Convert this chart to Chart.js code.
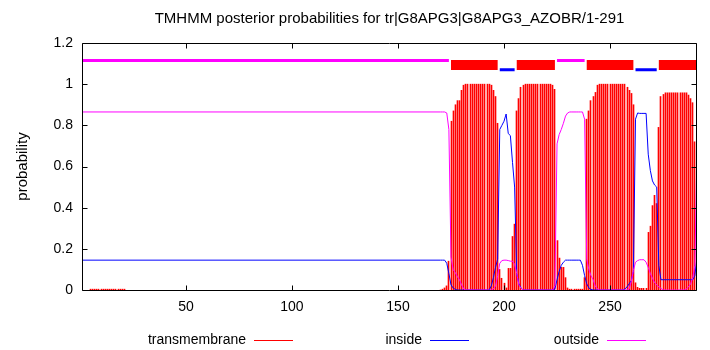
<!DOCTYPE html>
<html>
<head>
<meta charset="utf-8">
<title>TMHMM posterior probabilities</title>
<script src="https://cdn.jsdelivr.net/npm/chart.js@4.4.1/dist/chart.umd.min.js"></script>
<style>
  html, body { margin: 0; padding: 0; background: #fff; }
  canvas { display: block; }
</style>
</head>
<body>
<canvas id="tmhmm" width="710" height="350"></canvas>
<script>
const chartTitle = 'TMHMM posterior probabilities for tr|G8APG3|G8APG3_AZOBR/1-291';
const seqLength = 291;
const xTicks = [50, 100, 150, 200, 250];
const yTicks = [0, 0.2, 0.4, 0.6, 0.8, 1, 1.2];
const legendLabels = ['transmembrane', 'inside', 'outside'];

// residues 1..169 are flat
const flatInside = 0.145;
const flatOutside = 0.865;

// faint transmembrane impulses near the N terminus
const earlyTmResidues = [5, 6, 7, 8, 9, 10, 11, 12, 13, 14, 15, 16, 17, 18, 19, 20, 21];
const earlyTmValues = [0.004, 0.004, 0.004, 0.004, 0.004, 0.004, 0.004, 0.004, 0.004,
  0.004, 0.004, 0.004, 0.004, 0.004, 0.004, 0.004, 0.004];

// one value per residue, from residue 170 to 291
const profileStart = 170;
const tmProb = [
  0, 0.004, 0.01, 0.02, 0.14, 0.82, 0.87, 0.90, 0.92, 0.92, 0.97, 0.995,
  1, 1, 1, 1, 1, 1, 1, 1, 1, 1, 1, 1,
  0.995, 0.97, 0.94, 0.81, 0.10, 0.057, 0.033, 0.01, 0.105, 0.105, 0.26, 0.32, 0.87, 0.93, 0.985, 0.995,
  1, 1, 1, 1, 1, 1, 1, 1, 1, 1, 1, 1, 1,
  0.995, 0.975, 0.24, 0.155, 0.11, 0.11, 0.06, 0.01,
  0.004, 0.004, 0.004, 0.004, 0.004, 0.004, 0.004,
  0.06, 0.83, 0.87, 0.92, 0.94, 0.96, 0.995,
  1, 1, 1, 1, 1, 1, 1, 1, 1, 1, 1, 1, 1,
  0.985, 0.97, 0.955, 0.9, 0.035, 0.013,
  0.008, 0.008, 0.008, 0.008,
  0.28, 0.31, 0.41, 0.46, 0.42, 0.79, 0.94, 0.95,
  0.958, 0.958, 0.958, 0.958, 0.958, 0.958, 0.958, 0.958, 0.958, 0.958, 0.958,
  0.947, 0.93, 0.91, 0.72, 0.16
];
const insideProb = [
  0.145, 0.145, 0.145, 0.13, 0.08, 0.025, 0.01, 0.003,
  0, 0, 0, 0, 0, 0, 0, 0, 0, 0, 0, 0, 0, 0, 0, 0,
  0.02, 0.06, 0.11, 0.15, 0.78, 0.80, 0.82, 0.855, 0.76, 0.75, 0.62, 0.50, 0.08, 0.03, 0.01,
  0, 0, 0, 0, 0, 0, 0, 0, 0, 0, 0, 0, 0, 0, 0,
  0.005, 0.05, 0.09, 0.12, 0.135,
  0.145, 0.145, 0.145, 0.145, 0.145, 0.145, 0.145, 0.145,
  0.12, 0.07, 0.03, 0.01, 0.003,
  0, 0, 0, 0, 0, 0, 0, 0, 0, 0, 0, 0, 0, 0, 0,
  0.005, 0.015, 0.03, 0.045, 0.09, 0.83, 0.86,
  0.858, 0.858, 0.858, 0.858,
  0.66, 0.58, 0.53, 0.51, 0.50, 0.12, 0.05,
  0.05, 0.05, 0.05, 0.05, 0.05, 0.05, 0.05, 0.05, 0.05, 0.05, 0.05, 0.05, 0.05, 0.05, 0.05,
  0.07, 0.16
];
const outsideProb = [
  0.865, 0.865, 0.865, 0.86, 0.78, 0.16, 0.10, 0.085, 0.065, 0.05, 0.025, 0.005,
  0, 0, 0, 0, 0, 0, 0, 0, 0, 0, 0, 0, 0,
  0.005, 0.02, 0.07, 0.13, 0.143, 0.145, 0.145, 0.143, 0.14, 0.14, 0.125, 0.08, 0.025, 0.008,
  0, 0, 0, 0, 0, 0, 0, 0, 0, 0, 0, 0, 0, 0, 0,
  0.02, 0.71, 0.755, 0.78, 0.81, 0.845, 0.86,
  0.865, 0.865, 0.865, 0.865, 0.865, 0.865, 0.865,
  0.83, 0.15, 0.10, 0.07, 0.05, 0.02, 0.005,
  0, 0, 0, 0, 0, 0, 0, 0, 0, 0, 0, 0, 0, 0,
  0.005, 0.04, 0.095, 0.135, 0.143, 0.147, 0.147, 0.147, 0.135, 0.11, 0.08, 0.057, 0.035, 0.025, 0.015, 0.008,
  0, 0, 0, 0, 0, 0, 0, 0, 0, 0, 0,
  0.005, 0.015, 0.03, 0.06, 0.12, 0.69
];

// predicted topology, [first residue, last residue]
const outsideSegments = [[1, 174], [225, 238]];
const helixSegments = [[175, 197], [206, 224], [239, 261], [273, 291]];
const insideSegments = [[198, 205], [262, 272]];

// drawing setup
const RED = '#ff0000', BLUE = '#0000ff', MAGENTA = '#ff00ff';
const FONT = 'Liberation Sans, Arial, Helvetica, sans-serif';
const outsideLevel = 1.115, helixLevel = 1.093, insideLevel = 1.07;

const profile = (flat, vals) =>
  [{ x: 1, y: flat }].concat(vals.map((v, i) => ({ x: profileStart + i, y: v })));

const segPoints = (segs, level) =>
  segs.flatMap(([s, e]) => [{ x: s, y: level }, { x: e, y: level }, { x: e, y: null }]);

const tmBars = earlyTmResidues.map((r, i) => ({ x: r, y: earlyTmValues[i] }))
  .concat(tmProb.map((v, i) => ({ x: profileStart + i, y: v })));

const gnuplotLook = {
  id: 'gnuplotLook',
  beforeDatasetsDraw(chart) {
    // snap the 1px impulses to whole pixel columns, like gnuplot does
    chart.getDatasetMeta(0).data.forEach(el => { el.x = Math.floor(el.x) + 0.5; });
  },
  afterDatasetsDraw(chart) {
    const { ctx, chartArea: a } = chart;
    const xs = chart.scales.x, ys = chart.scales.y;
    const L = Math.round(a.left) + 0.5, R = Math.round(a.right) - 0.5;
    const T = Math.round(a.top) + 0.5, B = Math.round(a.bottom) + 0.5;
    ctx.save();
    ctx.strokeStyle = '#000';
    ctx.lineWidth = 1;
    ctx.beginPath();
    ctx.rect(L, T, R - L, B - T);
    const tick = 5;
    xTicks.forEach(v => {
      const px = Math.round(xs.getPixelForValue(v)) + 0.5;
      ctx.moveTo(px, B); ctx.lineTo(px, B - tick);
      ctx.moveTo(px, T); ctx.lineTo(px, T + tick);
    });
    yTicks.forEach(v => {
      const py = Math.round(ys.getPixelForValue(v)) + 0.5;
      ctx.moveTo(L, py); ctx.lineTo(L + tick, py);
      ctx.moveTo(R, py); ctx.lineTo(R - tick, py);
    });
    ctx.stroke();
    ctx.restore();
  },
  afterDraw(chart) {
    const { ctx, chartArea: a } = chart;
    ctx.save();
    ctx.fillStyle = '#000';
    ctx.textBaseline = 'middle';
    ctx.font = '15px ' + FONT;
    ctx.textAlign = 'center';
    ctx.fillText(chartTitle, (a.left + a.right) / 2, 19);

    ctx.save();
    ctx.translate(23, (a.top + a.bottom) / 2);
    ctx.rotate(-Math.PI / 2);
    ctx.fillText('probability', 0, 0);
    ctx.restore();

    ctx.font = '14px ' + FONT;
    ctx.textAlign = 'right';
    const textEnds = [246, 422, 599];
    const colors = [RED, BLUE, MAGENTA];
    legendLabels.forEach((lab, i) => {
      ctx.fillStyle = '#000';
      ctx.fillText(lab, textEnds[i], 340);
      ctx.strokeStyle = colors[i];
      ctx.lineWidth = 1;
      ctx.beginPath();
      ctx.moveTo(textEnds[i] + 8, 340.5);
      ctx.lineTo(textEnds[i] + 47, 340.5);
      ctx.stroke();
    });
    ctx.restore();
  }
};

Chart.defaults.font.family = FONT;
Chart.defaults.color = '#000';

new Chart(document.getElementById('tmhmm'), {
  type: 'line',
  data: {
    datasets: [
      {
        type: 'bar', label: 'transmembrane', data: tmBars,
        backgroundColor: RED, borderWidth: 0, barThickness: 1, order: 4
      },
      {
        label: 'inside', data: profile(flatInside, insideProb),
        borderColor: BLUE, borderWidth: 1, pointRadius: 0, tension: 0, order: 3
      },
      {
        label: 'outside', data: profile(flatOutside, outsideProb),
        borderColor: MAGENTA, borderWidth: 1, pointRadius: 0, tension: 0, order: 2
      },
      {
        label: 'outside topology', data: segPoints(outsideSegments, outsideLevel),
        borderColor: MAGENTA, borderWidth: 3, pointRadius: 0, spanGaps: false, order: 1
      },
      {
        label: 'helix topology', data: segPoints(helixSegments, helixLevel),
        borderColor: RED, borderWidth: 10, pointRadius: 0, spanGaps: false, order: 1
      },
      {
        label: 'inside topology', data: segPoints(insideSegments, insideLevel),
        borderColor: BLUE, borderWidth: 3, pointRadius: 0, spanGaps: false, order: 1
      }
    ]
  },
  options: {
    responsive: false,
    animation: false,
    events: [],
    layout: { padding: { top: 43, right: 13, left: 0, bottom: 0 } },
    plugins: { legend: { display: false }, tooltip: { enabled: false }, title: { display: false } },
    scales: {
      x: {
        type: 'linear', min: 1, max: seqLength, offset: false,
        grid: { display: false, drawTicks: false }, border: { display: false },
        ticks: { font: { size: 14 }, padding: 9, callback: v => String(v) },
        afterBuildTicks: s => { s.ticks = xTicks.map(v => ({ value: v })); },
        afterFit: s => { s.height = 60; }
      },
      y: {
        type: 'linear', min: 0, max: 1.2,
        grid: { display: false, drawTicks: false }, border: { display: false },
        ticks: { font: { size: 14 }, padding: 9, callback: v => String(v) },
        afterBuildTicks: s => { s.ticks = yTicks.map(v => ({ value: v })); },
        afterFit: s => { s.width = 82; }
      }
    }
  },
  plugins: [gnuplotLook]
});
</script>
</body>
</html>
